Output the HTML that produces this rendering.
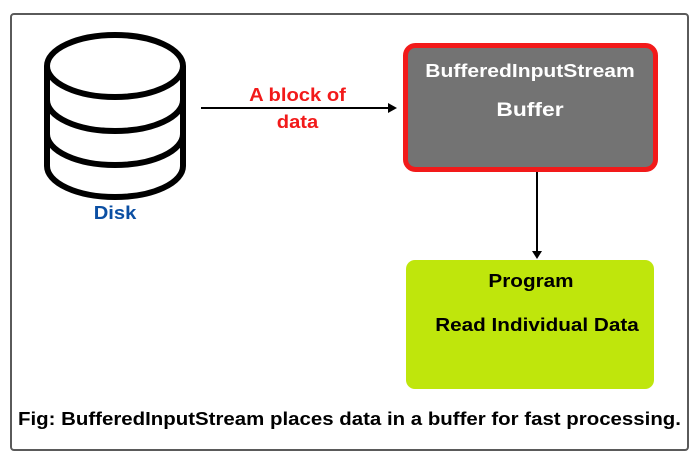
<!DOCTYPE html>
<html><head><style>
body{margin:0;width:700px;height:461px;background:#fff;overflow:hidden;font-family:"Liberation Sans",sans-serif;font-weight:bold}
.t{position:absolute;white-space:nowrap;text-align:center}
</style></head><body>
<div style="position:absolute;left:10px;top:13px;width:675px;height:434px;border:2px solid #5a5a5a;border-radius:4px"></div>
<svg style="position:absolute;left:0;top:0" width="700" height="461">
<g fill="none" stroke="#000" stroke-width="6">
<ellipse cx="115" cy="66" rx="68" ry="31"/>
<path d="M47 66 V166 A68 31 0 0 0 183 166 V66"/>
<path d="M47 100 A68 31 0 0 0 183 100"/>
<path d="M47 134 A68 31 0 0 0 183 134"/>
</g>
<line x1="201" y1="108" x2="390" y2="108" stroke="#000" stroke-width="2"/>
<path d="M388 103 L397 108 L388 113 Z" fill="#000"/>
<rect x="405.5" y="45.5" width="250" height="124" rx="10" fill="#737373" stroke="#f21a1a" stroke-width="5"/>
<line x1="537" y1="172" x2="537" y2="252" stroke="#000" stroke-width="2"/>
<path d="M532 251 L537 259 L542 251 Z" fill="#000"/>
<rect x="406" y="260" width="248" height="129" rx="9" fill="#bfe60c"/>
</svg>
<div class="t" style="left:85px;top:203px;width:60px;color:#0b4fa3;font-size:18px;transform:scaleX(1.12)">Disk</div>
<div class="t" style="left:220px;top:82px;width:155px;color:#f21a1a;font-size:18px;line-height:27px;transform:scaleX(1.12)">A block of<br>data</div>
<div class="t" style="left:405px;top:61px;width:250px;color:#fff;font-size:18px;transform:scaleX(1.17)">BufferedInputStream</div>
<div class="t" style="left:405px;top:99px;width:250px;color:#fff;font-size:19.5px;transform:scaleX(1.17)">Buffer</div>
<div class="t" style="left:406px;top:271px;width:250px;color:#000;font-size:18px;transform:scaleX(1.15)">Program</div>
<div class="t" style="left:406px;top:315px;width:262px;color:#000;font-size:18px;transform:scaleX(1.15)">Read Individual Data</div>
<div class="t" style="left:10px;top:409px;width:679px;color:#000;font-size:18px;transform:scaleX(1.135)">Fig: BufferedInputStream places data in a buffer for fast processing.</div>
</body></html>
